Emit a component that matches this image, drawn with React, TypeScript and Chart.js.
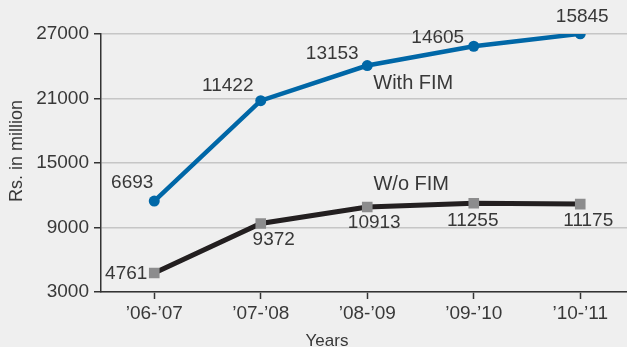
import React, { useEffect, useRef } from "react";
import { Chart, registerables } from "chart.js";

Chart.register(...registerables);

const categories = ["’06-’07", "’07-’08", "’08-’09", "’09-’10", "’10-’11"];
const withoutFIM = [4761, 9372, 10913, 11255, 11175];
const withFIM = [6693, 11422, 13153, 14605, 15845];
const yTicks = { min: 3000, max: 27000, step: 6000 };

const W = 641;
const H = 347;
const FONT = "'Liberation Sans', Arial, sans-serif";
const TEXT = "#383838";

// label offsets relative to each point (styling only)
const blueLabelOffsets = [[-22, -18], [-33, -15], [-35, -12], [-36, -8], [2, -17]];
const blackLabelOffsets = [[-28, 1], [13, 16], [7, 16], [-1, 18], [8, 17]];

const annotate = {
  id: "annotate",
  afterDatasetsDraw(chart: any) {
    const ctx = chart.ctx;
    ctx.save();
    ctx.fillStyle = TEXT;
    ctx.textAlign = "center";
    ctx.textBaseline = "middle";
    ctx.font = `19px ${FONT}`;
    const m0 = chart.getDatasetMeta(0);
    const m1 = chart.getDatasetMeta(1);
    m0.data.forEach((p: any, i: number) => {
      const o = blackLabelOffsets[i];
      ctx.fillText(String(withoutFIM[i]), p.x + o[0], p.y + o[1]);
    });
    m1.data.forEach((p: any, i: number) => {
      const o = blueLabelOffsets[i];
      ctx.fillText(String(withFIM[i]), p.x + o[0], p.y + o[1]);
    });
    ctx.font = `20px ${FONT}`;
    const b2 = m1.data[2];
    ctx.fillText("With FIM", b2.x + 46, b2.y + 18);
    const k2 = m0.data[2];
    ctx.fillText("W/o FIM", k2.x + 44, k2.y - 22);

    // axis titles
    const ca = chart.chartArea;
    ctx.font = `18px ${FONT}`;
    ctx.save();
    ctx.translate(17, ca.top + 117);
    ctx.rotate(-Math.PI / 2);
    ctx.fillText("Rs. in million", 0, 0);
    ctx.restore();
    ctx.font = `17px ${FONT}`;
    ctx.fillText("Years", 327, ca.bottom + 49);
    ctx.restore();
  },
};

export default function App() {
  const ref = useRef<HTMLCanvasElement>(null);
  useEffect(() => {
    document.body.style.margin = "0";
    document.body.style.overflow = "hidden";
    document.body.style.background = "#efefef";
    const chart = new Chart(ref.current!, {
      type: "line",
      data: {
        labels: categories,
        datasets: [
          {
            label: "W/o FIM",
            data: withoutFIM,
            borderColor: "#231f20",
            borderWidth: 5,
            pointStyle: "rect",
            pointRadius: 7.5,
            pointBackgroundColor: "#8c8c8d",
            pointBorderColor: "#8c8c8d",
            pointBorderWidth: 0,
            fill: false,
            tension: 0,
          },
          {
            label: "With FIM",
            data: withFIM,
            borderColor: "#0067a7",
            borderWidth: 4.5,
            pointRadius: 5.5,
            pointBackgroundColor: "#0067a7",
            pointBorderColor: "#0067a7",
            pointBorderWidth: 0,
            fill: false,
            tension: 0,
          },
        ],
      },
      options: {
        animation: false,
        responsive: false,
        layout: { padding: { top: 34, left: 0, right: 0, bottom: 0 } },
        plugins: { legend: { display: false }, tooltip: { enabled: false } },
        scales: {
          x: {
            offset: true,
            afterFit: (s: any) => {
              s.height = 55;
            },
            grid: {
              display: true,
              drawOnChartArea: false,
              offset: false,
              tickLength: 7,
              tickColor: "#333",
              tickWidth: 1.5,
            },
            border: { color: "#333", width: 1.5 },
            ticks: { color: TEXT, font: { family: FONT, size: 19 }, padding: 3 },
          },
          y: {
            stacked: true,
            min: yTicks.min,
            max: yTicks.max,
            afterFit: (s: any) => {
              s.width = 101;
            },
            ticks: {
              stepSize: yTicks.step,
              color: TEXT,
              font: { family: FONT, size: 19 },
              padding: 5,
              callback: (v: any) => String(v),
            },
            grid: {
              color: "#c6c6c6",
              lineWidth: 1.5,
              tickLength: 7,
              tickColor: "#333",
              tickWidth: 1.5,
            },
            border: { color: "#333", width: 1.5 },
          },
        },
      },
      plugins: [annotate],
    });
    return () => chart.destroy();
  }, []);
  return (
    <div style={{ width: 627, height: H, overflow: "hidden", background: "#efefef" }}>
      <canvas ref={ref} width={W} height={H} style={{ display: "block" }} />
    </div>
  );
}
